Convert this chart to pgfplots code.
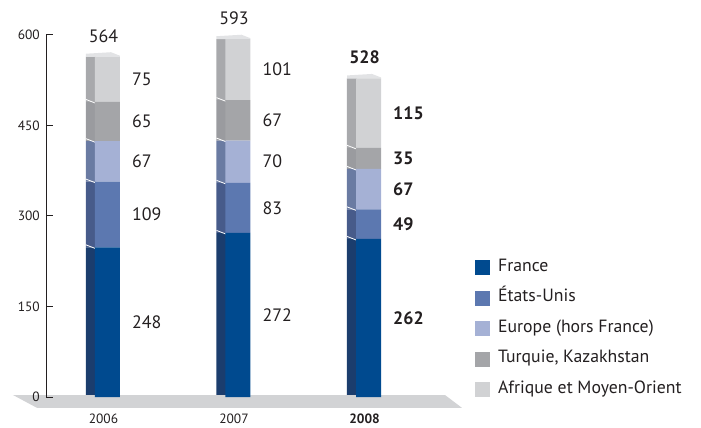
\documentclass[border=0pt]{standalone}
\usepackage{fontspec}
\setmainfont{PT Sans}
\usepackage{pgfplots}
\pgfplotsset{compat=1.18}
\definecolor{cFr}{HTML}{004A8F}
\definecolor{cUS}{HTML}{5C78B0}
\definecolor{cEu}{HTML}{A5B1D5}
\definecolor{cTk}{HTML}{A4A5A8}
\definecolor{cAf}{HTML}{D1D2D4}
\definecolor{sFr}{HTML}{1B3D6D}
\definecolor{sUS}{HTML}{475B8A}
\definecolor{sEu}{HTML}{6A7BA2}
\definecolor{sTk}{HTML}{9A9B9F}
\definecolor{sAf}{HTML}{A8A9AC}
\definecolor{floorc}{HTML}{D2D3D5}
\definecolor{topc}{HTML}{E2E3E5}
\definecolor{txt}{HTML}{231F20}
\pgfplotsset{base/.style={scale only axis, width=414bp, height=362bp,
  xmin=-0.471, xmax=2.701, ymin=0, ymax=600,
  at={(46bp,31bp)}, anchor=south west, clip=false}}
\tikzset{lab/.style={font=\fontsize{18}{20}\selectfont, text=txt, inner sep=0pt, anchor=west, xshift=24.5bp},
  tot/.style={font=\fontsize{18}{20}\selectfont, text=txt, inner sep=0pt, anchor=south, xshift=-4bp, yshift=14bp},
  topf/.style={fill=topc},
  sep/.style={draw=white, line width=0.8bp}}
\newcommand\sepline[2]{\draw[sep] ([xshift=-21.5bp,yshift=2.5bp]axis cs:#1,#2) -- ([xshift=-12.5bp,yshift=-1bp]axis cs:#1,#2) -- ([xshift=12.5bp,yshift=1.5bp]axis cs:#1,#2);}
\newcommand\topface[2]{\fill[topf] ([xshift=-21.5bp]axis cs:#1,#2) -- ([xshift=-12.5bp]axis cs:#1,#2) -- ([xshift=12.5bp]axis cs:#1,#2) -- ([xshift=12.5bp,yshift=1bp]axis cs:#1,#2) -- ([xshift=3.5bp,yshift=4.5bp]axis cs:#1,#2) -- ([xshift=-21.5bp,yshift=3bp]axis cs:#1,#2) -- cycle;}
\begin{document}
\begin{tikzpicture}
\useasboundingbox (0,0) rectangle (701bp,428bp);
% side faces and floor
\begin{axis}[base, hide axis, ybar stacked, bar width=9.6bp, bar shift=-16.8bp]
\fill[floorc] (axis cs:-0.724,3.3) -- (axis cs:2.586,3.3) -- (axis cs:2.716,-18) -- (axis cs:-0.540,-18) -- cycle;
\addplot[fill=sFr, draw=none] coordinates {(0,248) (1,272) (2,262)};
\addplot[fill=sUS, draw=none] coordinates {(0,109) (1,83) (2,49)};
\addplot[fill=sEu, draw=none] coordinates {(0,67) (1,70) (2,67)};
\addplot[fill=sTk, draw=none] coordinates {(0,65) (1,67) (2,35)};
\addplot[fill=sAf, draw=none] coordinates {(0,75) (1,101) (2,115)};
\end{axis}
% front faces
\begin{axis}[base, ybar stacked, bar width=25bp,
  axis x line=bottom, axis y line=left,
  x axis line style={draw=none},
  y axis line style={-, line width=1bp, color=txt},
  xtick={0,1,2}, xticklabels={2006,2007,\textbf{2008}},
  xtick style={draw=none},
  xticklabel style={font=\fontsize{13.5}{15}\selectfont, text=txt, anchor=center, yshift=-22bp, xshift=-4bp},
  ytick={0,150,300,450,600},
  tick align=inside, major tick length=7bp,
  ytick style={line width=1bp, color=txt},
  yticklabel style={font=\fontsize{13.5}{15}\selectfont, text=txt, inner sep=0pt, xshift=-6bp},
  /pgf/number format/assume math mode=true,
  legend style={at={(1.036,0.378)}, anchor=north west, draw=none, fill=none,
    inner sep=0pt, row sep=15.5bp, column sep=8bp,
    font=\fontsize{17.8}{19}\selectfont, text=txt,
    nodes={inner sep=0pt, text height=11bp, text depth=4bp}},
  legend cell align=left,
  legend image code/.code={\fill[#1, draw=none] (0bp,-7.5bp) rectangle (15bp,7.5bp);},
  ]
\addplot[fill=cFr, draw=none] coordinates {(0,248) (1,272) (2,262)};
\addplot[fill=cUS, draw=none] coordinates {(0,109) (1,83) (2,49)};
\addplot[fill=cEu, draw=none] coordinates {(0,67) (1,70) (2,67)};
\addplot[fill=cTk, draw=none] coordinates {(0,65) (1,67) (2,35)};
\addplot[fill=cAf, draw=none] coordinates {(0,75) (1,101) (2,115)};
\legend{France, États-Unis, Europe (hors France), {Turquie, Kazakhstan}, Afrique et Moyen-Orient}
% segment separators
\sepline{0}{248}\sepline{0}{357}\sepline{0}{424}\sepline{0}{489}
\sepline{1}{272}\sepline{1}{355}\sepline{1}{425}\sepline{1}{492}
\sepline{2}{262}\sepline{2}{311}\sepline{2}{378}\sepline{2}{413}
% top faces
\topface{0}{564}\topface{1}{593}\topface{2}{528}
% value labels
\node[lab] at (axis cs:0,124) {248};
\node[lab] at (axis cs:0,302.5) {109};
\node[lab] at (axis cs:0,390.5) {67};
\node[lab] at (axis cs:0,456.5) {65};
\node[lab] at (axis cs:0,526.5) {75};
\node[tot] at (axis cs:0,564) {564};
\node[lab] at (axis cs:1,136) {272};
\node[lab] at (axis cs:1,313.5) {83};
\node[lab] at (axis cs:1,390) {70};
\node[lab] at (axis cs:1,458.5) {67};
\node[lab] at (axis cs:1,542.5) {101};
\node[tot] at (axis cs:1,593) {593};
\node[lab,font=\fontsize{18}{20}\selectfont\bfseries] at (axis cs:2,131) {262};
\node[lab,font=\fontsize{18}{20}\selectfont\bfseries] at (axis cs:2,286.5) {49};
\node[lab,font=\fontsize{18}{20}\selectfont\bfseries] at (axis cs:2,344.5) {67};
\node[lab,font=\fontsize{18}{20}\selectfont\bfseries] at (axis cs:2,395.5) {35};
\node[lab,font=\fontsize{18}{20}\selectfont\bfseries] at (axis cs:2,470.5) {115};
\node[tot,font=\fontsize{18}{20}\selectfont\bfseries] at (axis cs:2,528) {528};
\end{axis}
\end{tikzpicture}
\end{document}
